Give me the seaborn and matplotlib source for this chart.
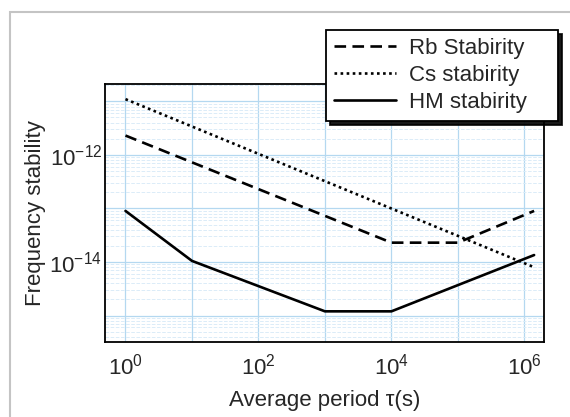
import numpy as np
import pandas as pd
import matplotlib
matplotlib.use("Agg")
import matplotlib.pyplot as plt
import matplotlib.patches as mpatches
from matplotlib.lines import Line2D
import seaborn as sns

# values
rb_tau = [1, 1e4, 1e5, 1.4e6]
rb_sigma = [2.3e-12, 2.3e-14, 2.3e-14, 9e-14]
cs_tau = [1, 1.4e6]
cs_sigma = [1.1e-11, 8e-15]
hm_tau = [1, 10, 1e3, 1e4, 1.4e6]
hm_sigma = [9e-14, 1.05e-14, 1.2e-15, 1.2e-15, 1.35e-14]
names = ["Rb Stabirity", "Cs stabirity", "HM stabirity"]

x_ticks = [1e0, 1e1, 1e2, 1e3, 1e4, 1e5, 1e6]
x_ticklabels = [r"$10^0$", "", r"$10^2$", "", r"$10^4$", "", r"$10^6$"]
y_ticks = [1e-15, 1e-14, 1e-13, 1e-12, 1e-11]
y_ticklabels = ["", r"$10^{-14}$", "", r"$10^{-12}$", ""]

df = pd.concat([
    pd.DataFrame({"tau": rb_tau, "sigma": rb_sigma, "clock": names[0]}),
    pd.DataFrame({"tau": cs_tau, "sigma": cs_sigma, "clock": names[1]}),
    pd.DataFrame({"tau": hm_tau, "sigma": hm_sigma, "clock": names[2]}),
], ignore_index=True)

sns.set_style("white")
plt.rcParams["font.family"] = ["Liberation Sans", "DejaVu Sans"]
plt.rcParams["mathtext.default"] = "regular"

fig = plt.figure(figsize=(5.7, 4.17), dpi=100)
ax = fig.add_axes([0.184, 0.179, 0.771, 0.619])
ax.set_xscale("log")
ax.set_yscale("log")

dash_map = {names[0]: (4.4, 2.4), names[1]: (1, 1.3), names[2]: ""}
sns.lineplot(data=df, x="tau", y="sigma", style="clock", dashes=dash_map,
             color="black", lw=1.9, estimator=None, sort=False,
             legend=False, ax=ax)

ax.set_xlim(10 ** -0.31, 10 ** 6.30)
ax.set_ylim(10 ** -15.5, 10 ** -10.68)
ax.set_xticks(x_ticks)
ax.set_xticklabels(x_ticklabels)
ax.set_yticks(y_ticks)
ax.set_yticklabels(y_ticklabels)
ax.tick_params(which="both", length=0, labelsize=16)
ax.tick_params(axis="x", pad=8)
ax.tick_params(axis="y", pad=2)

# graph-paper background
ax.grid(True, which="major", color="#b4d8f0", lw=0.9)
ax.grid(True, which="minor", color="#dbecf8", lw=0.7, ls="--")
ax.set_axisbelow(True)
for s in ax.spines.values():
    s.set_color("black")
    s.set_linewidth(1.3)

ax.set_xlabel("Average period τ(s)", fontsize=16, labelpad=8)
ax.set_ylabel("Frequency stability", fontsize=16, labelpad=2)

handles = [Line2D([], [], color="black", lw=1.9, dashes=dash_map[n]) if dash_map[n]
           else Line2D([], [], color="black", lw=1.9) for n in names]
leg = fig.legend(handles, names, loc="upper left", mode="expand",
                 bbox_to_anchor=(326 / 570, 1 - 121 / 417, 232 / 570, 91 / 417),
                 borderaxespad=0, fontsize=16, frameon=True, fancybox=False,
                 framealpha=1, edgecolor="black", handlelength=2.8,
                 handletextpad=0.6, labelspacing=0.28, borderpad=0.35,
                 shadow={"ox": 3, "oy": -3, "color": "black", "alpha": 0.9})
leg.get_frame().set_linewidth(1.3)

# light grey page border of the scan
fig.patches.append(mpatches.Rectangle((10 / 570, -0.1), 1.2, 1 - 12 / 417 + 0.1,
                                      transform=fig.transFigure, fill=False,
                                      edgecolor="#c4c4c4", lw=1.5))

fig.savefig("out.png", dpi=100)
